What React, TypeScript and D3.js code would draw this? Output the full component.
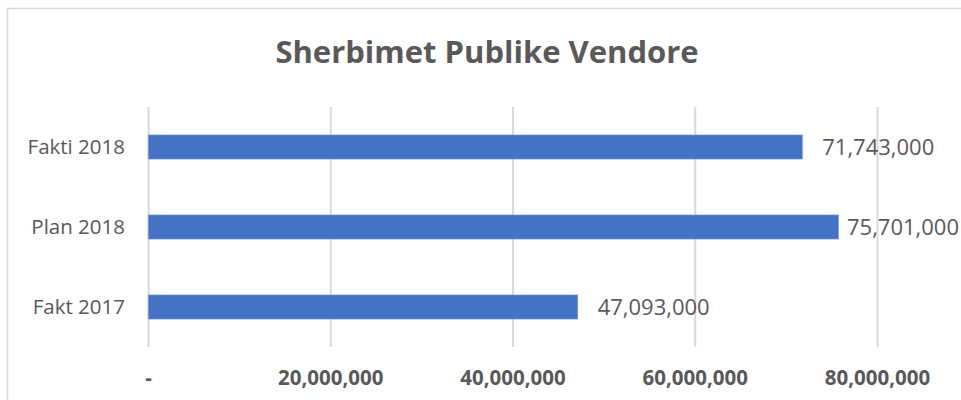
import React from "react";
import * as d3 from "d3";

const categories = ["Fakti 2018", "Plan 2018", "Fakt 2017"];
const values = [71743000, 75701000, 47093000];
const tickValues = [0, 20000000, 40000000, 60000000, 80000000];
const title = "Sherbimet Publike Vendore";

const W = 961;
const H = 400;
const FONT = "'Open Sans', 'Segoe UI', sans-serif";
const TEXT = "#595959";
const LABEL_SIZE = 22;
const LABEL_W = 112;

export default function App() {
  const x = d3.scaleLinear().domain([0, 80000000]).range([148.5, 877.5]);
  const y = d3
    .scaleBand<string>()
    .domain(categories)
    .range([107, 347])
    .paddingInner(0.7)
    .paddingOuter(0.35);
  const fmt = d3.format(",");
  const tickFmt = (v: number) => (v === 0 ? "-" : fmt(v));

  return (
    <svg
      width={W}
      height={H}
      style={{ position: "absolute", left: 0, top: 0, background: "#fff" }}
    >
      <rect x={7.5} y={8.5} width={W} height={H} fill="#fff" stroke="#d9d9d9" strokeWidth={1.5} />
      <text
        x={487}
        y={63}
        textAnchor="middle"
        fontFamily={FONT}
        fontWeight={700}
        fontSize={31}
        fill={TEXT}
      >
        {title}
      </text>
      {tickValues.map((t) => (
        <g key={t}>
          <line x1={x(t)} x2={x(t)} y1={107} y2={347} stroke="#d9d9d9" strokeWidth={2} />
          <text
            x={x(t)}
            y={385}
            textAnchor="middle"
            fontFamily={FONT}
            fontWeight={700}
            fontSize={20.5}
            fill={TEXT}
          >
            {tickFmt(t)}
          </text>
        </g>
      ))}
      {categories.map((c, i) => {
        const yy = y(c)!;
        const bw = y.bandwidth();
        const lx = Math.min(x(values[i]) + 20, W - 2 - LABEL_W);
        return (
          <g key={c}>
            <rect
              x={x(0)}
              y={yy}
              width={x(values[i]) - x(0)}
              height={bw}
              fill="#4472C4"
              stroke="#6d8fd0"
              strokeWidth={0.75}
            />
            <text
              x={125}
              y={yy + bw / 2}
              dy="0.35em"
              textAnchor="end"
              fontFamily={FONT}
              fontSize={20.5}
              fill={TEXT}
            >
              {c}
            </text>
            <text
              x={lx}
              y={yy + bw / 2}
              dy="0.35em"
              textAnchor="start"
              fontFamily={FONT}
              fontSize={LABEL_SIZE}
              fill={TEXT}
            >
              {fmt(values[i])}
            </text>
          </g>
        );
      })}
    </svg>
  );
}
